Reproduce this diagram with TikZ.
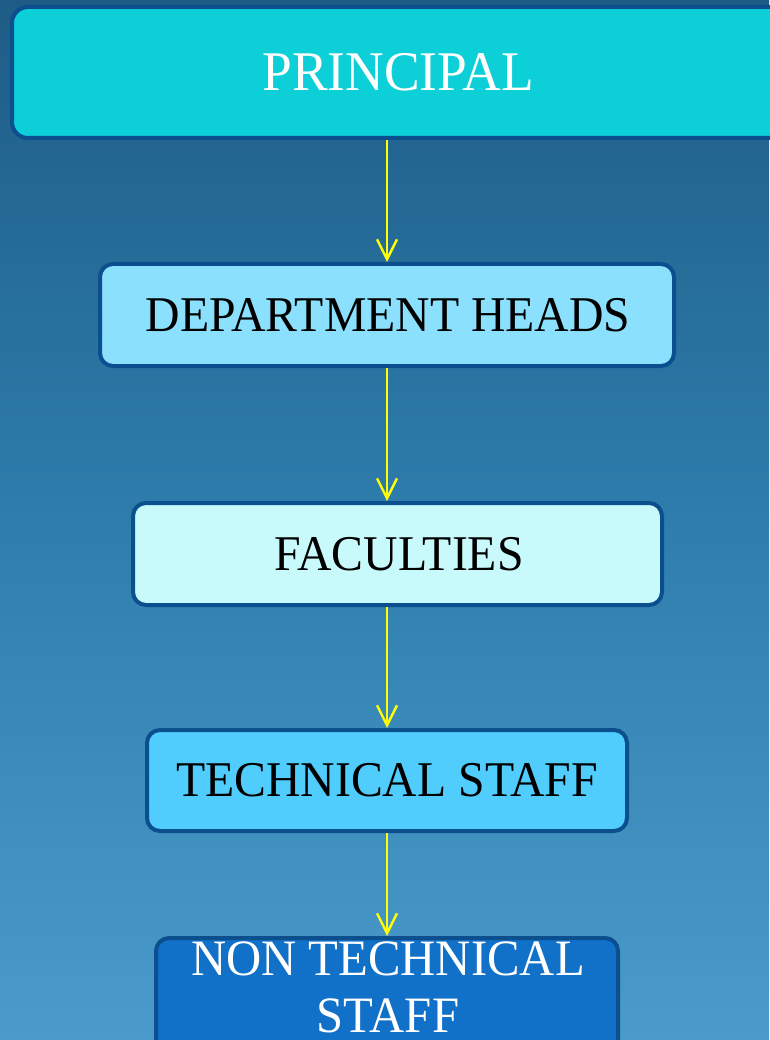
\documentclass[tikz,border=0pt]{standalone}
\usepackage{fontspec}
\setmainfont[FakeStretch=0.955]{Liberation Serif}
\usetikzlibrary{arrows.meta}
\definecolor{bgtop}{HTML}{1E5C85}
\definecolor{bgmid}{HTML}{2E7DAD}
\definecolor{bgbot}{HTML}{4A9BCB}
\definecolor{edge}{HTML}{0B4F8F}
\definecolor{cPrin}{HTML}{0CCFD8}
\definecolor{cDept}{HTML}{8AE0FD}
\definecolor{cFac}{HTML}{C8FAFC}
\definecolor{cTech}{HTML}{50CDFD}
\definecolor{cNon}{HTML}{1170C8}
\definecolor{arrowyellow}{HTML}{FFFF00}
\tikzset{
  orgbox/.style={draw=edge, line width=4pt, rounded corners=13pt, inner sep=0pt,
    font=\fontsize{50}{57}\selectfont},
  link/.style={draw=arrowyellow, line width=2.4pt,
    -{Straight Barb[length=20pt,width=20pt,line width=2.4pt]}}
}
\begin{document}
\begin{tikzpicture}[x=1pt,y=-1pt]
\useasboundingbox (0,0) rectangle (769,1040);
\shade[top color=bgtop, bottom color=bgbot, middle color=bgmid] (0,0) rectangle (769,1040);
\node[orgbox, fill=cPrin, text=white, rounded corners=16pt, minimum width=784pt, minimum height=131pt,
  font=\fontsize{56}{60}\selectfont] (prin) at (404,72.5) {\hspace*{-12pt}PRINCIPAL};
\node[orgbox, fill=cDept, text=black, minimum width=574pt, minimum height=102pt] (dept) at (387,315) {\hspace*{2pt}DEPARTMENT HEADS};
\node[orgbox, fill=cFac, text=black, minimum width=529pt, minimum height=102pt] (fac) at (397.5,554) {\hspace*{3pt}FACULTIES};
\node[orgbox, fill=cTech, text=black, minimum width=480pt, minimum height=101pt] (tech) at (387,780.5) {TECHNICAL STAFF};
\node[orgbox, fill=cNon, minimum width=462pt, minimum height=130pt, anchor=north] (non) at (387,936) {};
\node[anchor=base, text=white, inner sep=0pt, font=\fontsize{51}{57}\selectfont] (nonA) at (388,975) {NON TECHNICAL};
\node[anchor=base, text=white, inner sep=0pt, font=\fontsize{51}{57}\selectfont] (nonB) at (388,1032) {STAFF};
\draw[link] (dept.north |- prin.south) -- (dept.north);
\draw[link] (dept.south) -- (dept.south |- fac.north);
\draw[link] (fac.south -| tech.north) -- (tech.north);
\draw[link] (tech.south) -- (non.north);
\end{tikzpicture}
\end{document}
